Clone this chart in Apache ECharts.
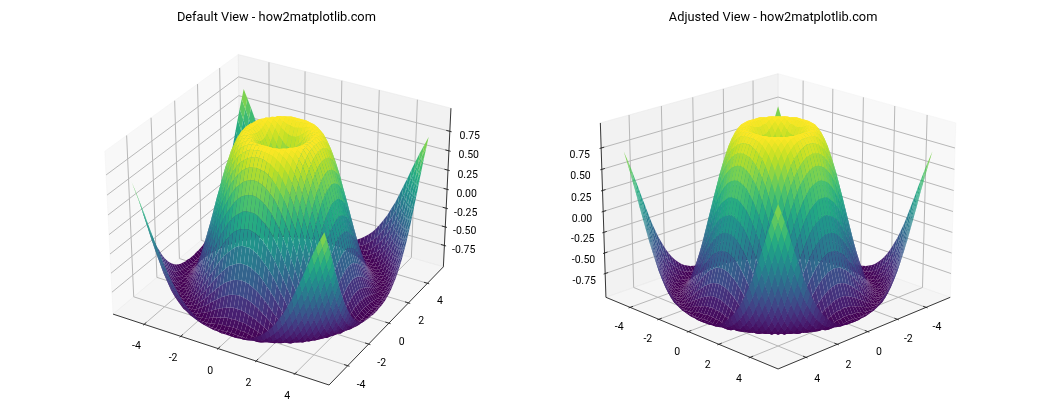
<!DOCTYPE html>
<html><head><meta charset="utf-8">
<style>html,body{margin:0;padding:0;background:#fff}#c{width:1050px;height:420px}</style>
<script src="https://cdn.jsdelivr.net/npm/echarts@6/dist/echarts.min.js"></script>
</head><body><div id="c"></div>
<script>
const titles = ['Default View - how2matplotlib.com', 'Adjusted View - how2matplotlib.com'];
const views = [{elev: 30, azim: -60}, {elev: 20, azim: 45}];
const xyTicks = [-4, -2, 0, 2, 4];
const zTicks = [-0.75, -0.5, -0.25, 0, 0.25, 0.5, 0.75];
const zTickLabels = ['-0.75', '-0.50', '-0.25', '0.00', '0.25', '0.50', '0.75'];
const meshSamples = [0, 0.2, 0.4, 0.6, 0.8, 1, 1.2, 1.4, 1.6, 1.8, 2, 2.2, 2.4, 2.6, 2.8, 3, 3.2, 3.4, 3.6, 3.8, 4, 4.2, 4.4, 4.6, 4.8, 5];
// Height of the surface, one octant (row = |larger coordinate| index, column = |smaller| index).
const surfaceHeights = [
[0],
[.20,.28],
[.39,.43,.54],
[.56,.59,.66,.75],
[.72,.73,.78,.84,.91],
[.84,.85,.88,.92,.96,.99],
[.93,.94,.95,.97,.99,1,.99],
[.99,.99,.99,1,1,.99,.96,.92],
[1,1,1,.99,.98,.95,.91,.85,.77],
[.97,.97,.96,.95,.92,.88,.83,.76,.67,.56],
[.91,.91,.89,.87,.83,.79,.72,.64,.55,.44,.31],
[.81,.80,.79,.76,.72,.66,.59,.51,.41,.29,.17,.03],
[.68,.67,.65,.62,.57,.52,.44,.35,.25,.14,.02,-.11,-.25],
[.52,.51,.49,.46,.41,.35,.27,.19,.09,-.02,-.14,-.26,-.39,-.51],
[.33,.33,.31,.27,.23,.17,.10,.01,-.08,-.19,-.30,-.41,-.52,-.63,-.73],
[.14,.13,.11,.08,.04,-.02,-.09,-.17,-.26,-.35,-.45,-.55,-.64,-.73,-.82,-.89],
[-.06,-.06,-.08,-.11,-.16,-.21,-.27,-.34,-.42,-.51,-.59,-.68,-.76,-.83,-.90,-.95,-.98],
[-.26,-.26,-.28,-.31,-.34,-.39,-.45,-.51,-.58,-.65,-.72,-.79,-.85,-.91,-.95,-.98,-1,-1],
[-.44,-.45,-.46,-.49,-.52,-.56,-.61,-.66,-.72,-.77,-.83,-.88,-.93,-.96,-.99,-1,-1,-.97,-.93],
[-.61,-.62,-.63,-.65,-.68,-.71,-.75,-.79,-.83,-.88,-.91,-.95,-.98,-.99,-1,-.99,-.97,-.93,-.87,-.79],
[-.76,-.76,-.77,-.79,-.81,-.83,-.86,-.89,-.92,-.95,-.97,-.99,-1,-1,-.99,-.96,-.92,-.86,-.79,-.69,-.59],
[-.87,-.88,-.88,-.89,-.91,-.92,-.94,-.96,-.98,-.99,-1,-1,-.99,-.97,-.95,-.90,-.84,-.77,-.68,-.58,-.46,-.34],
[-.95,-.95,-.96,-.96,-.97,-.98,-.99,-1,-1,-1,-.99,-.98,-.95,-.92,-.88,-.82,-.75,-.66,-.56,-.45,-.33,-.20,-.06],
[-.99,-.99,-1,-1,-1,-1,-1,-1,-.99,-.97,-.95,-.93,-.89,-.84,-.78,-.71,-.63,-.53,-.43,-.31,-.19,-.05,.08,.22],
[-1,-1,-1,-.99,-.99,-.98,-.97,-.96,-.94,-.92,-.88,-.84,-.79,-.73,-.66,-.58,-.49,-.39,-.28,-.16,-.04,.09,.23,.36,.48],
[-.96,-.96,-.95,-.95,-.94,-.93,-.91,-.89,-.86,-.82,-.78,-.73,-.67,-.60,-.52,-.44,-.34,-.24,-.12,0,.12,.25,.37,.49,.60,.71]
];
const viridis = ['#440154','#482475','#414487','#355f8d','#2a788e','#21918c','#22a884','#44bf70','#7ad151','#bddf26','#fde725'];

const FONT = 'Roboto, "Noto Sans", sans-serif';
const XLIM = 5.5, ZLIM = 1;
const PANE = XLIM * (1 + 1 / 24), ZPANE = ZLIM * (1 + 1 / 24);
const BOX = [1.19049, 1.19049, 0.89287];
const TICK_DELTA = XLIM * 2 / 12;
const GRID_SIZE = 369;
const panels = [{left: 91.9, top: 32}, {left: 588.6, top: 32}];

function camera(v) {
  const e = v.elev * Math.PI / 180, a = v.azim * Math.PI / 180;
  const w = [Math.cos(e) * Math.cos(a), Math.cos(e) * Math.sin(a), Math.sin(e)];
  const n = Math.hypot(w[1], w[0]);
  const u = [-w[1] / n, w[0] / n, 0];
  const t = [w[1] * u[2] - w[2] * u[1], w[2] * u[0] - w[0] * u[2], w[0] * u[1] - w[1] * u[0]];
  return {u, v: t, w};
}
function project(cam, x, y, z) {
  const p = [x * BOX[0] / (2 * XLIM), y * BOX[1] / (2 * XLIM), z * BOX[2] / (2 * ZLIM)];
  const dot = (a) => a[0] * p[0] + a[1] * p[1] + a[2] * p[2];
  const d = 10 - dot(cam.w);
  return [dot(cam.u) / d, dot(cam.v) / d, d];
}
function hex(c) { return [1, 3, 5].map(i => parseInt(c.slice(i, i + 2), 16)); }
const viridisRgb = viridis.map(hex);
function colorOf(t) {
  t = Math.max(0, Math.min(1, t)) * (viridisRgb.length - 1);
  const i = Math.min(viridisRgb.length - 2, Math.floor(t)), f = t - i;
  const a = viridisRgb[i], b = viridisRgb[i + 1];
  return 'rgb(' + a.map((c, k) => Math.round(c + (b[k] - c) * f)).join(',') + ')';
}
function height(i, j) {
  const a = Math.abs(i), b = Math.abs(j);
  return surfaceHeights[Math.max(a, b)][Math.min(a, b)];
}
function coordOf(i) { return i < 0 ? -meshSamples[-i] : meshSamples[i]; }

function surfaceRows(cam) {
  const rows = [];
  for (let i = -25; i < 25; i++) for (let j = -25; j < 25; j++) {
    const c = [[i, j], [i + 1, j], [i + 1, j + 1], [i, j + 1]];
    const row = [];
    let sum = 0, depth = 0;
    c.forEach(q => {
      const x = coordOf(q[0]), y = coordOf(q[1]), z = height(q[0], q[1]);
      row.push(x, y, z); sum += z; depth += project(cam, x, y, z)[2];
    });
    row.push(sum / 4, depth / 4);
    rows.push(row);
  }
  rows.sort((a, b) => b[13] - a[13]);
  return rows;
}

function buildPanel(k) {
  const cam = camera(views[k]);
  const backX = cam.w[0] > 0 ? -PANE : PANE, frontX = -backX;
  const backY = cam.w[1] > 0 ? -PANE : PANE, frontY = -backY;
  const bz = -ZPANE, tz = ZPANE;
  const panes = [
    [backX, -PANE, bz, backX, PANE, bz, backX, PANE, tz, backX, -PANE, tz, 0],
    [-PANE, backY, bz, PANE, backY, bz, PANE, backY, tz, -PANE, backY, tz, 1],
    [-PANE, -PANE, bz, PANE, -PANE, bz, PANE, PANE, bz, -PANE, PANE, bz, 2]
  ];
  const paneColors = ['rgba(242,242,242,0.5)', 'rgba(230,230,230,0.5)', 'rgba(236,236,236,0.5)'];
  const seg = (a, b, kind) => [a[0], a[1], a[2], b[0], b[1], b[2], kind];
  const segs = [];
  xyTicks.forEach(t => {
    segs.push(seg([t, frontY, bz], [t, backY, bz], 0), seg([t, backY, bz], [t, backY, tz], 0));
    segs.push(seg([frontX, t, bz], [backX, t, bz], 0), seg([backX, t, bz], [backX, t, tz], 0));
  });
  zTicks.forEach(t => {
    segs.push(seg([backX, frontY, t], [backX, backY, t], 0), seg([backX, backY, t], [frontX, backY, t], 0));
  });
  segs.push(seg([-PANE, frontY, bz], [PANE, frontY, bz], 1));
  segs.push(seg([frontX, -PANE, bz], [frontX, PANE, bz], 1));
  segs.push(seg([frontX, backY, bz], [frontX, backY, tz], 1));
  const sy = Math.sign(frontY), sx = Math.sign(frontX);
  xyTicks.forEach(t => {
    segs.push(seg([t, frontY + sy * 0.1 * TICK_DELTA, bz], [t, frontY - sy * 0.2 * TICK_DELTA, bz], 1));
    segs.push(seg([frontX + sx * 0.1 * TICK_DELTA, t, bz], [frontX - sx * 0.2 * TICK_DELTA, t, bz], 1));
  });
  zTicks.forEach(t => {
    segs.push(seg([frontX + sx * 0.1 * TICK_DELTA, backY, t], [frontX - sx * 0.2 * TICK_DELTA, backY, t], 1));
  });
  // Label anchors are pushed away from the box centre.
  const dXY = 0.075 * 2 * XLIM / BOX[0], dZ = 0.085 * 2 * ZLIM / BOX[2];
  const labels = [];
  xyTicks.forEach(t => {
    labels.push({p: [t, frontY + sy * dXY, bz - dZ], text: String(t), dy: 0.5});
    labels.push({p: [frontX + sx * dXY, t, bz - dZ], text: String(t), dy: 0.5});
  });
  zTicks.forEach((t, n) => {
    labels.push({p: [frontX + sx * dXY, backY + Math.sign(backY) * dXY, t], text: zTickLabels[n], dy: 7.5});
  });
  const base = {type: 'custom', coordinateSystem: 'cartesian2d', xAxisIndex: k, yAxisIndex: k,
    silent: true, animation: false, clip: false, progressive: 0, encode: {x: 0, y: 1}};
  const polyPoints = (api) => {
    const pts = [];
    for (let q = 0; q < 4; q++) {
      const pr = project(cam, api.value(q * 3), api.value(q * 3 + 1), api.value(q * 3 + 2));
      pts.push(api.coord([pr[0], pr[1]]));
    }
    return pts;
  };
  const rows = surfaceRows(cam);
  return [
    Object.assign({}, base, {data: panes, z: 1, renderItem(params, api) {
      return {type: 'polygon', shape: {points: polyPoints(api)},
        style: {fill: paneColors[api.value(12)], stroke: paneColors[api.value(12)], lineWidth: 1}};
    }}),
    Object.assign({}, base, {data: segs, z: 2, renderItem(params, api) {
      const a = project(cam, api.value(0), api.value(1), api.value(2));
      const b = project(cam, api.value(3), api.value(4), api.value(5));
      const pa = api.coord([a[0], a[1]]), pb = api.coord([b[0], b[1]]);
      const axisLine = api.value(6) === 1;
      return {type: 'line', shape: {x1: pa[0], y1: pa[1], x2: pb[0], y2: pb[1]},
        style: {stroke: axisLine ? '#222222' : '#b8b8b8', lineWidth: axisLine ? 0.9 : 1, fill: null}};
    }}),
    Object.assign({}, base, {data: rows, z: 3, renderItem(params, api) {
      return {type: 'polygon', shape: {points: polyPoints(api)},
        style: {fill: colorOf((api.value(12) + 0.99) / 1.98), stroke: null}};
    }}),
    Object.assign({}, base, {data: labels.map((l, n) => [l.p[0], l.p[1], l.p[2], n]), z: 4, renderItem(params, api) {
      const l = labels[api.value(3)];
      const pr = project(cam, api.value(0), api.value(1), api.value(2));
      const p = api.coord([pr[0], pr[1]]);
      return {type: 'text', x: p[0], y: p[1] + l.dy,
        style: {text: l.text, fill: '#000', font: '10.5px ' + FONT, align: 'center', verticalAlign: 'middle'}};
    }})
  ];
}

const chart = echarts.init(document.getElementById('c'), null, {renderer: 'canvas'});
chart.setOption({
  backgroundColor: '#fff',
  animation: false,
  title: titles.map((t, k) => ({text: t, left: panels[k].left + GRID_SIZE / 2 - 5, top: 6, textAlign: 'center',
    textStyle: {fontFamily: FONT, fontSize: 12.8, fontWeight: 'normal', color: '#000'}})),
  grid: panels.map(p => ({left: p.left, top: p.top, width: GRID_SIZE, height: GRID_SIZE, show: false})),
  xAxis: panels.map((p, k) => ({type: 'value', gridIndex: k, min: -0.095, max: 0.09, show: false})),
  yAxis: panels.map((p, k) => ({type: 'value', gridIndex: k, min: -0.095, max: 0.09, show: false})),
  series: buildPanel(0).concat(buildPanel(1))
});
</script></body></html>
